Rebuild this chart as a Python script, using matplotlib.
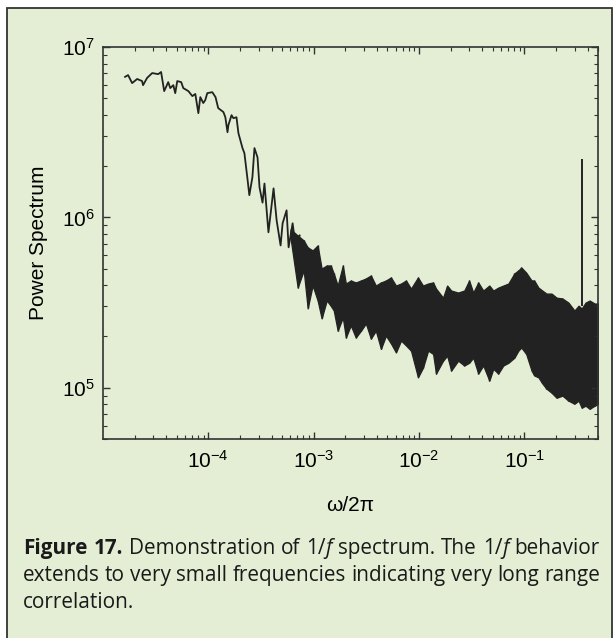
import matplotlib
matplotlib.use("Agg")
import matplotlib.pyplot as plt
from matplotlib.patches import Rectangle

plt.rcParams['font.family'] = ['Liberation Sans', 'DejaVu Sans']
plt.rcParams['mathtext.fontset'] = 'custom'
plt.rcParams['mathtext.rm'] = 'Liberation Sans'
plt.rcParams['mathtext.default'] = 'regular'

BG = '#e3eed4'
INK = '#222222'

# low-frequency part of the spectrum (single trace)
low_freq = [1.62e-5, 1.73e-5, 1.89e-5, 2.11e-5, 2.35e-5, 2.40e-5, 2.62e-5, 2.93e-5,
            3.34e-5, 3.56e-5, 3.81e-5, 4.16e-5, 4.35e-5, 4.65e-5, 4.85e-5, 5.07e-5,
            5.53e-5, 5.78e-5, 6.46e-5, 7.05e-5, 7.52e-5, 8.04e-5, 8.39e-5, 8.95e-5,
            9.35e-5, 9.77e-5, 1.09e-4, 1.17e-4, 1.24e-4, 1.39e-4, 1.45e-4, 1.52e-4,
            1.55e-4, 1.66e-4, 1.73e-4, 1.85e-4, 1.93e-4, 2.11e-4, 2.20e-4, 2.35e-4,
            2.45e-4, 2.62e-4, 2.74e-4, 2.93e-4, 3.06e-4, 3.27e-4, 3.41e-4, 3.72e-4,
            4.16e-4, 4.45e-4, 4.85e-4, 5.07e-4, 5.53e-4, 5.78e-4, 6.31e-4, 6.75e-4,
            7.36e-4]
low_power = [6.68e6, 6.84e6, 6.14e6, 6.49e6, 6.31e6, 5.97e6, 6.58e6, 7.03e6,
             6.93e6, 7.13e6, 5.51e6, 6.22e6, 5.74e6, 5.97e6, 5.36e6, 6.31e6,
             6.22e6, 5.74e6, 5.51e6, 5.15e6, 5.30e6, 4.09e6, 5.08e6, 4.69e6,
             4.88e6, 5.36e6, 5.43e6, 5.08e6, 4.38e6, 4.15e6, 3.87e6, 3.16e6,
             3.48e6, 3.98e6, 3.82e6, 3.87e6, 3.12e6, 2.55e6, 2.38e6, 1.69e6,
             1.35e6, 1.72e6, 2.55e6, 2.25e6, 1.50e6, 1.22e6, 1.58e6, 8.17e5,
             1.48e6, 9.59e5, 6.84e5, 9.23e5, 1.10e6, 6.67e5, 9.23e5, 6.67e5,
             7.83e5]

# high-frequency part: dense noisy band, upper and lower edge
band_freq = [6.04e-4, 7.05e-4, 8.04e-4, 8.77e-4, 9.77e-4, 1.09e-3, 1.19e-3, 1.33e-3,
             1.45e-3, 1.55e-3, 1.69e-3, 1.89e-3, 2.02e-3, 2.25e-3, 2.51e-3, 2.81e-3,
             3.13e-3, 3.49e-3, 3.89e-3, 4.35e-3, 4.85e-3, 5.41e-3, 6.04e-3, 6.75e-3,
             7.52e-3, 8.39e-3, 9.77e-3, 1.09e-2, 1.22e-2, 1.36e-2, 1.45e-2, 1.69e-2,
             1.85e-2, 2.02e-2, 2.35e-2, 2.69e-2, 2.99e-2, 3.27e-2, 3.65e-2, 4.07e-2,
             4.65e-2, 5.07e-2, 5.65e-2, 6.31e-2, 7.05e-2, 8.04e-2, 8.77e-2, 9.35e-2,
             0.104, 0.117, 0.124, 0.136, 0.148, 0.162, 0.181, 0.202,
             0.230, 0.262, 0.299, 0.327, 0.350, 0.381, 0.416, 0.465, 0.500]
band_upper = [8.5e5, 7.83e5, 7.32e5, 6.67e5, 6.40e5, 6.84e5, 5.01e5, 5.22e5,
              5.22e5, 4.69e5, 3.98e5, 5.22e5, 4.09e5, 4.26e5, 4.15e5, 4.26e5,
              4.38e5, 4.56e5, 3.98e5, 4.15e5, 4.26e5, 4.44e5, 3.98e5, 4.09e5,
              4.26e5, 3.82e5, 4.44e5, 3.98e5, 4.09e5, 4.15e5, 3.82e5, 3.38e5,
              3.98e5, 3.72e5, 3.62e5, 3.72e5, 4.26e5, 3.62e5, 4.15e5, 3.72e5,
              3.98e5, 3.72e5, 3.87e5, 3.98e5, 4.09e5, 4.69e5, 4.88e5, 5.08e5,
              4.74e5, 4.26e5, 4.26e5, 3.87e5, 3.72e5, 3.57e5, 3.57e5, 3.38e5,
              3.34e5, 3.16e5, 2.84e5, 3.03e5, 2.92e5, 3.16e5, 3.25e5, 3.12e5, 3.12e5]
band_lower = [7.5e5, 3.87e5, 4.88e5, 2.92e5, 3.98e5, 3.25e5, 2.55e5, 3.25e5,
              3.03e5, 2.84e5, 2.16e5, 2.58e5, 1.97e5, 2.32e5, 1.97e5, 2.16e5,
              2.38e5, 1.94e5, 2.16e5, 1.69e5, 2.02e5, 1.82e5, 1.61e5, 1.89e5,
              1.77e5, 1.65e5, 1.15e5, 1.31e5, 1.65e5, 1.58e5, 1.21e5, 1.44e5,
              1.54e5, 1.26e5, 1.44e5, 1.35e5, 1.40e5, 1.50e5, 1.21e5, 1.35e5,
              1.10e5, 1.29e5, 1.21e5, 1.35e5, 1.40e5, 1.50e5, 1.65e5, 1.72e5,
              1.58e5, 1.26e5, 1.18e5, 1.15e5, 1.06e5, 9.87e4, 9.35e4, 8.73e4,
              8.98e4, 8.39e4, 8.05e4, 8.39e4, 7.63e4, 7.84e4, 7.52e4, 7.84e4, 8.05e4]

# single narrow line in the spectrum
spike_freq = 0.35
spike_power = 2.19e6

W, H = 613, 638
fig = plt.figure(figsize=(W / 100, H / 100), dpi=100)
fig.patch.set_facecolor('white')
fig.patches.append(Rectangle((7 / W, -0.01), 605 / W, 1 - 8 / H + 0.01,
                             transform=fig.transFigure, facecolor=BG,
                             edgecolor='#333333', lw=1.3, zorder=-5))

ax = fig.add_axes([103 / W, 1 - 439 / H, 495 / W, 392 / H])
ax.set_zorder(2)
ax.set_facecolor(BG)

ax.plot(low_freq, low_power, color=INK, lw=1.3)
ax.fill_between(band_freq, band_lower, band_upper, color=INK, lw=0.9)
ax.vlines(band_freq, band_lower, band_upper, color=INK, lw=1.0)
ax.vlines(spike_freq, 3.0e5, spike_power, color=INK, lw=1.4)

ax.set_xscale('log')
ax.set_yscale('log')
ax.set_xlim(1e-5, 0.5)
ax.set_ylim(5e4, 1e7)

for s in ax.spines.values():
    s.set_color('#333333')
    s.set_linewidth(1.2)
ax.tick_params(which='both', direction='in', top=True, right=True, color='#333333')
ax.tick_params(which='major', length=5, width=1.0, labelsize=15)
ax.tick_params(axis='x', which='major', pad=8)
ax.tick_params(axis='y', which='major', pad=6)
ax.tick_params(which='minor', length=3, width=0.8)
ax.set_xticks([1e-4, 1e-3, 1e-2, 1e-1])
ax.set_yticks([1e5, 1e6, 1e7])

ax.set_ylabel('Power Spectrum', fontsize=15)
ax.set_xlabel('ω/2π', fontsize=15)
ax.yaxis.set_label_coords((48 - 103) / 495, 0.5)
ax.xaxis.set_label_coords(0.5, (439 - 496) / 392)

# caption, justified between x=23 and x=600
cap_font = 'Open Sans'
left, right = 23, 600
line1 = [[('Figure', 'bold', 'normal')], [('17.', 'bold', 'normal')],
         [('Demonstration', 'normal', 'normal')], [('of', 'normal', 'normal')],
         [('1/', 'normal', 'normal'), ('f', 'normal', 'italic')],
         [('spectrum.', 'normal', 'normal')], [('The', 'normal', 'normal')],
         [('1/', 'normal', 'normal'), ('f', 'normal', 'italic')],
         [('behavior', 'normal', 'normal')]]
line2_text = 'extends to very small frequencies indicating very long range'
line2 = [[(w, 'normal', 'normal')] for w in line2_text.split()]
line3 = [[('correlation.', 'normal', 'normal')]]

renderer = fig.canvas.get_renderer()

# pick the caption size so that line 2 fills the column with normal spaces
probe = fig.text(0, 0, line2_text, fontsize=10, family=cap_font)
cap_size = 10 * (right - left) / probe.get_window_extent(renderer).width
probe.remove()


def draw_line(words, baseline, justify):
    pieces = []
    widths = []
    for word in words:
        ws = []
        for txt, wt, st in word:
            t = fig.text(0, 1 - baseline / H, txt, fontsize=cap_size, family=cap_font,
                         weight=wt, style=st, color='#1a1a1a', va='baseline')
            ws.append((t, t.get_window_extent(renderer).width))
        pieces.append(ws)
        widths.append(sum(w for _, w in ws))
    if justify and len(words) > 1:
        gap = (right - left - sum(widths)) / (len(words) - 1)
    else:
        gap = 4.5
    x = left
    for ws in pieces:
        for t, w in ws:
            t.set_x(x / W)
            x += w
        x += gap


draw_line(line1, 554, True)
draw_line(line2, 581, True)
draw_line(line3, 608, False)

fig.savefig('out.png', dpi=100, facecolor=fig.get_facecolor())
